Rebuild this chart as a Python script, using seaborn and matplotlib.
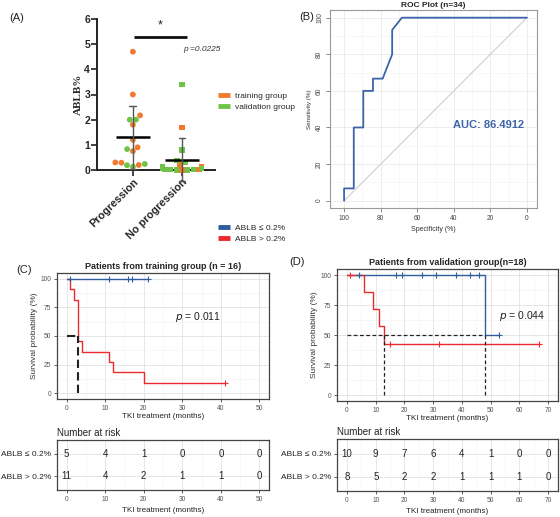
import numpy as np
import pandas as pd
import matplotlib
matplotlib.use('Agg')
import matplotlib.pyplot as plt
import seaborn as sns
from matplotlib.lines import Line2D

sns.set_theme(style='white')
plt.rcParams['font.family'] = ['Liberation Sans', 'DejaVu Sans']

# ---- data: panel A (ABLB% per patient) ----
groups = ['Progression', 'No progression']
prog_training = [4.7, 3.0, 2.17, 1.8, 1.2, 0.9, 0.75, 0.3, 0.2, 0.29]
prog_validation = [2.0, 2.0, 0.83, 0.24, 0.19, 0.13]
noprog_training = [1.7, 0.2, 0.15, 0.1, 0.02, 0.0]
noprog_validation = [3.4, 0.8, 0.38, 0.3, 0.12, 0.08, 0.05, 0.03, 0.02, 0.01, 0.0, 0.0]
p_a = 'p =0.0225'

# ---- data: panel B (ROC) ----
roc_spec = [100, 100, 94.7, 94.7, 89.5, 89.5, 84.2, 84.2, 78.9, 73.7, 73.7, 68.4, 0]
roc_sens = [0, 6.7, 6.7, 40, 40, 60, 60, 66.7, 66.7, 80, 93.3, 100, 100]
auc_label = 'AUC: 86.4912'

# ---- data: panel C (training group, months, 1 = progression) ----
c_low_time = [1, 11, 16, 17, 21]
c_low_event = [0, 0, 0, 0, 0]
c_high_time = [1, 2, 3, 3, 3, 3, 4, 11, 12, 20, 41]
c_high_event = [1, 1, 1, 1, 1, 1, 1, 1, 1, 1, 0]
c_ticks = [0, 10, 20, 30, 40, 50]
p_c = '0.011'

# ---- data: panel D (validation group) ----
d_low_time = [4, 17, 19, 26, 31, 38, 43, 46, 48, 53]
d_low_event = [0, 0, 0, 0, 0, 0, 0, 0, 1, 0]
d_high_time = [1, 6, 9, 11, 13, 15, 32, 67]
d_high_event = [0, 1, 1, 1, 1, 0, 0, 0]
d_ticks = [0, 10, 20, 30, 40, 50, 60, 70]
p_d = '0.044'

strata = ['ABLB \u2264 0.2%', 'ABLB > 0.2%']

orange = '#F07B2F'
green = '#6FC447'
blue = '#2E5C9E'
red = '#EA2A2E'
roc_blue = '#3C64A8'

W, H = 560, 517
fig = plt.figure(figsize=(W / 100, H / 100), dpi=100)


def box(l, t, r, b):
    return [l / W, 1 - b / H, (r - l) / W, (b - t) / H]


def km(times, events):
    t = np.array(times, float)
    e = np.array(events)
    xs, ys, cx, cy = [0.0], [100.0], [], []
    s = 100.0
    for u in np.unique(t):
        n = (t >= u).sum()
        d = ((t == u) & (e == 1)).sum()
        c = ((t == u) & (e == 0)).sum()
        if d:
            s = s * (1 - d / n)
            xs.append(u)
            ys.append(s)
        if c:
            cx.append(u)
            cy.append(s)
    xs.append(t.max())
    ys.append(s)
    return xs, ys, cx, cy


def median_time(xs, ys):
    for x, y in zip(xs, ys):
        if y <= 50:
            return x
    return None


def gg_style(ax, ticks, ylim, yticks):
    step = ticks[1] - ticks[0]
    ax.set_xlim(ticks[0] - 0.05 * (ticks[-1] - ticks[0]), ticks[-1] + 0.05 * (ticks[-1] - ticks[0]))
    ax.set_ylim(*ylim)
    ax.set_xticks(ticks)
    ax.set_xticks([t + step / 2 for t in ticks[:-1]], minor=True)
    ax.set_yticks(yticks)
    ax.grid(which='major', color='#e2e2e2', lw=0.6)
    ax.grid(which='minor', color='#f1f1f1', lw=0.4)
    ax.set_axisbelow(True)
    for sp in ax.spines.values():
        sp.set_color('#444444')
        sp.set_linewidth(0.9)
    ax.tick_params(which='major', length=2, width=0.6, color='#444444', labelsize=4.8,
                   labelcolor='#555555', pad=2, left=True, bottom=True)
    ax.tick_params(which='minor', length=0)


# ================= Panel A =================
axA = fig.add_axes(box(97, 19, 215, 170))
rows = []
for v in prog_training:
    rows.append(('Progression', v, 'training'))
for v in prog_validation:
    rows.append(('Progression', v, 'validation'))
for v in noprog_training:
    rows.append(('No progression', v, 'training'))
for v in noprog_validation:
    rows.append(('No progression', v, 'validation'))
dfA = pd.DataFrame(rows, columns=['group', 'value', 'cohort'])
pal = {'training': orange, 'validation': green}

sns.swarmplot(data=dfA[dfA.group == 'Progression'], x='group', y='value', hue='cohort',
              order=groups, palette=pal, marker='o', size=4.2, legend=False, ax=axA, zorder=3)
sns.swarmplot(data=dfA[dfA.group == 'No progression'], x='group', y='value', hue='cohort',
              order=groups, palette=pal, marker='s', size=3.9, legend=False, ax=axA, zorder=3)
sns.pointplot(data=dfA, x='group', y='value', order=groups, estimator='mean', errorbar='sd',
              color='black', marker='_', markersize=24, markeredgewidth=1.8, linestyle='none',
              capsize=0.14, err_kws={'linewidth': 1.0, 'color': '#555555'}, ax=axA, zorder=4)
for coll in axA.collections:
    coll.set_clip_on(False)
for ln in axA.lines:
    ln.set_clip_on(False)

axA.set_xlim(-0.73, 1.67)
axA.set_ylim(0, 6)
axA.set_yticks(range(0, 7))
axA.set_xlabel('')
axA.set_ylabel('ABLB%', family='Liberation Serif', fontweight='bold', fontsize=8, labelpad=1)
sns.despine(ax=axA)
for sp in ['left', 'bottom']:
    axA.spines[sp].set_linewidth(1.4)
    axA.spines[sp].set_color('#222222')
axA.tick_params(axis='both', length=4, width=1.2, color='#222222', labelsize=7.5, pad=1, left=True, bottom=True)
for lab in axA.get_yticklabels():
    lab.set_fontweight('bold')
axA.set_xticks([0, 1])
axA.set_xticklabels(groups, rotation=45, ha='right', rotation_mode='anchor', fontweight='bold', fontsize=7.8)

sig_y = 5.3
axA.plot([0.02, 1.1], [sig_y, sig_y], color='#111111', lw=2, solid_capstyle='butt', clip_on=False)
axA.text(0.56, sig_y + 0.2, '*', ha='center', va='bottom', fontsize=9, color='#222222')
axA.text(1.4, 4.8, p_a, ha='center', va='center', fontsize=6, style='italic', color='#333333')

hA = [Line2D([], [], color=orange, lw=3.5, solid_capstyle='butt'),
      Line2D([], [], color=green, lw=3.5, solid_capstyle='butt')]
fig.legend(hA, ['training group', 'validation group'], loc='upper left',
           bbox_to_anchor=(214 / W, 1 - 88 / H), frameon=False, fontsize=6,
           handlelength=1.4, handletextpad=0.6, labelspacing=0.35, borderpad=0)

# ================= Panel B =================
axB = fig.add_axes(box(330, 10, 537, 208))
sns.lineplot(x=roc_spec, y=roc_sens, sort=False, estimator=None, color=roc_blue, lw=1.3, ax=axB)
axB.plot([100, 0], [0, 100], color='#c8c8c8', lw=0.7, zorder=1)
axB.set_xlim(107.7, -5.5)
axB.set_ylim(-4, 104.2)
axB.set_xticks([100, 80, 60, 40, 20, 0])
axB.set_xticks([90, 70, 50, 30, 10], minor=True)
axB.set_yticks([0, 20, 40, 60, 80, 100])
axB.set_yticks([10, 30, 50, 70, 90], minor=True)
axB.grid(which='major', color='#e6e6e6', lw=0.5)
axB.grid(which='minor', color='#f2f2f2', lw=0.4)
axB.set_axisbelow(True)
for sp in axB.spines.values():
    sp.set_color('#9a9a9a')
    sp.set_linewidth(0.8)
axB.tick_params(which='major', length=3, width=0.6, color='#777777', labelsize=4.8,
                labelcolor='#444444', pad=2, left=True, bottom=True)
axB.tick_params(which='minor', length=0)
for lab in axB.get_yticklabels():
    lab.set_rotation(90)
    lab.set_va('center')
axB.set_title('ROC Plot (n=34)', fontsize=6, fontweight='bold', pad=2)
axB.set_xlabel('Specificity (%)', fontsize=5, color='#333333', labelpad=3)
axB.set_ylabel('Sensitivity (%)', fontsize=4.5, color='#333333', labelpad=3)
axB.text(40.6, 41.4, auc_label, color=roc_blue, fontsize=8, fontweight='bold', ha='left', va='center')

# KM legend
hK = [Line2D([], [], color=blue, lw=3.5, solid_capstyle='butt'),
      Line2D([], [], color=red, lw=3.5, solid_capstyle='butt')]
fig.legend(hK, strata, loc='upper left', bbox_to_anchor=(214 / W, 1 - 220 / H), frameon=False,
           fontsize=6, handlelength=1.4, handletextpad=0.6, labelspacing=0.35, borderpad=0)


# ================= KM panels =================
def km_panel(rect, rect_risk, low, high, ticks, title, pval, pxy, med_kw):
    ax = fig.add_axes(rect)
    gg_style(ax, ticks, (-5, 105), [0, 25, 50, 75, 100])
    ax.set_yticks([12.5, 37.5, 62.5, 87.5], minor=True)
    curves = []
    for (tm, ev), col in zip([low, high], [blue, red]):
        xs, ys, cx, cy = km(tm, ev)
        curves.append((xs, ys))
        sns.lineplot(x=xs, y=ys, drawstyle='steps-post', sort=False, estimator=None,
                     color=col, lw=1.0, ax=ax)
        sns.scatterplot(x=cx, y=cy, marker='+', s=22, color=col, linewidth=0.8, ax=ax, zorder=4)
    meds = [median_time(xs, ys) for xs, ys in curves]
    meds = [m for m in meds if m is not None]
    if meds:
        ax.plot([0, max(meds)], [50, 50], color='#222222', **med_kw)
        for m in meds:
            ax.plot([m, m], [0, 50], color='#222222', **med_kw)
    ax.text(pxy[0], pxy[1], '$p$ = ' + pval, fontsize=7.5, ha='center', va='center', color='#222222')
    ax.set_title(title, fontsize=6.5, fontweight='bold', pad=3)
    ax.set_xlabel('TKI treatment (months)', fontsize=5.8, color='#222222', labelpad=1)
    ax.set_ylabel('Survival probability (%)', fontsize=6, color='#333333', labelpad=2)

    axr = fig.add_axes(rect_risk)
    gg_style(axr, ticks, (0.4, 2.62), [1, 2])
    axr.set_yticklabels([strata[1], strata[0]])
    axr.tick_params(axis='y', labelsize=6, labelcolor='#222222')
    for row, (tm, ev) in zip([2, 1], [low, high]):
        t = np.array(tm)
        for tk in ticks:
            axr.text(tk, row, str(int((t >= tk).sum())), ha='center', va='center',
                     fontsize=7, color='#222222')
    axr.set_xlabel('TKI treatment (months)', fontsize=5.8, color='#222222', labelpad=3)
    axr.set_title('Number at risk', loc='left', fontsize=7, pad=3, color='#222222')
    return ax


km_panel(box(57, 273, 269, 399), box(57, 440, 269, 490),
         (c_low_time, c_low_event), (c_high_time, c_high_event), c_ticks,
         'Patients from training group (n = 16)', p_c, (34, 67),
         dict(lw=1.5, ls=(0, (4, 2))))
km_panel(box(337, 269, 558, 401), box(337, 439, 558, 491),
         (d_low_time, d_low_event), (d_high_time, d_high_event), d_ticks,
         'Patients from validation group(n=18)', p_d, (61, 66),
         dict(lw=0.9, ls=(0, (3, 2))))

# panel labels
for lab, x, y in [('(A)', 17, 18), ('(B)', 307, 17), ('(C)', 24, 270), ('(D)', 297, 262)]:
    fig.text(x / W, 1 - y / H, lab, fontsize=8, ha='center', va='center', color='#222222')

fig.savefig('out.png', dpi=100)
